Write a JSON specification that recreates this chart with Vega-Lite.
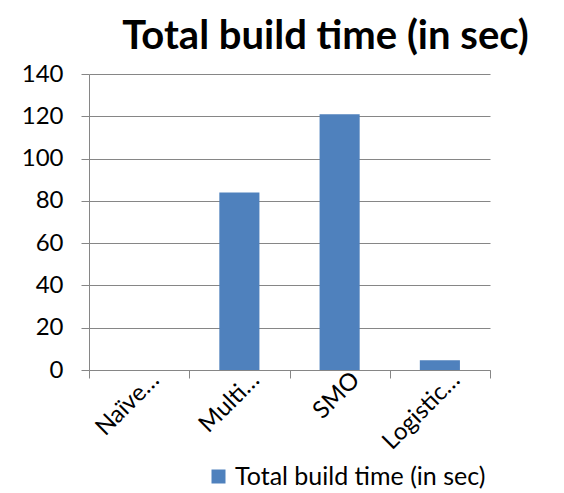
{
  "$schema": "https://vega.github.io/schema/vega-lite/v6.json",
  "autosize": "none",
  "width": 401,
  "height": 296,
  "padding": {"left": 89, "top": 74, "right": 74, "bottom": 123},
  "background": "white",
  "title": {
    "text": "Total build time (in sec)",
    "font": "Lato",
    "fontSize": 40,
    "fontWeight": "bold",
    "color": "black",
    "anchor": "middle",
    "dx": 36,
    "dy": 52,
    "baseline": "bottom",
    "offset": 17
  },
  "data": {
    "values": [
      {"model": "Naïve…", "series": "Total build time (in sec)", "time": 0},
      {"model": "Multi…", "series": "Total build time (in sec)", "time": 84},
      {"model": "SMO", "series": "Total build time (in sec)", "time": 121},
      {"model": "Logistic…", "series": "Total build time (in sec)", "time": 4.6}
    ]
  },
  "mark": {"type": "bar", "width": {"band": 0.4}},
  "encoding": {
    "x": {
      "field": "model",
      "type": "nominal",
      "sort": null,
      "scale": {"paddingInner": 0, "paddingOuter": 0},
      "axis": {
        "title": null,
        "labelAngle": -45,
        "labelAlign": "right",
        "labelBaseline": "middle",
        "labelFont": "Lato",
        "labelFontSize": 24,
        "labelColor": "black",
        "labelPadding": -2,
        "labelOffset": 16,
        "tickBand": "extent",
        "tickSize": 8,
        "tickColor": "#868686",
        "domainColor": "#868686",
        "grid": false
      }
    },
    "y": {
      "field": "time",
      "type": "quantitative",
      "scale": {"domain": [0, 140]},
      "axis": {
        "title": null,
        "values": [0, 20, 40, 60, 80, 100, 120, 140],
        "labelFont": "Lato",
        "labelFontSize": 24,
        "labelColor": "black",
        "labelPadding": 18,
        "tickSize": 8,
        "tickColor": "#868686",
        "domainColor": "#868686",
        "gridColor": "#868686",
        "gridOpacity": 1
      }
    },
    "color": {
      "field": "series",
      "type": "nominal",
      "scale": {"range": ["#4F81BD"]},
      "legend": {
        "title": null,
        "orient": "none",
        "legendX": 117,
        "legendY": 390,
        "symbolType": "square",
        "symbolSize": 196,
        "symbolStrokeWidth": 0,
        "symbolOpacity": 1,
        "labelFont": "Lato",
        "labelFontSize": 25,
        "labelColor": "black",
        "labelLimit": 400
      }
    }
  },
  "config": {
    "view": {"stroke": null}
  }
}
